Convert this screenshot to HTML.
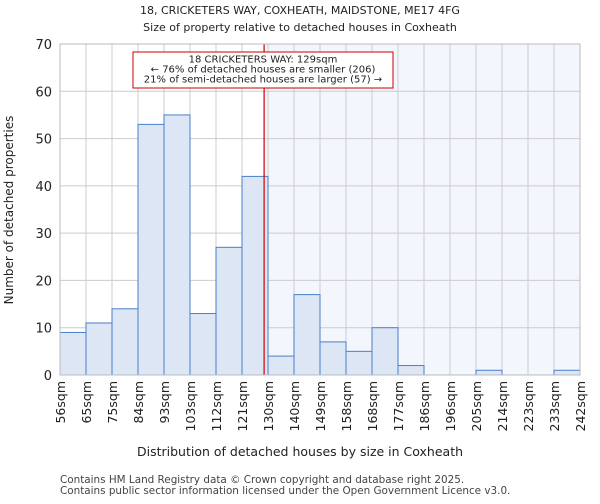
<!DOCTYPE html>
<html><head><meta charset="utf-8"><style>
body{margin:0;background:#fff;font-family:"DejaVu Sans","Liberation Sans",sans-serif}
</style></head><body>
<svg id="chart" width="600" height="500" xmlns="http://www.w3.org/2000/svg" font-family="DejaVu Sans, Liberation Sans, sans-serif">
<text x="300" y="14" text-anchor="middle" font-size="11" fill="#222">18, CRICKETERS WAY, COXHEATH, MAIDSTONE, ME17 4FG</text>
<text x="300" y="31" text-anchor="middle" font-size="11" fill="#222">Size of property relative to detached houses in Coxheath</text>
<g id="grid"></g><g id="bars"></g><g id="axes"></g>
<text x="300" y="456" text-anchor="middle" font-size="12.5" fill="#222">Distribution of detached houses by size in Coxheath</text>
<text transform="translate(13,210) rotate(-90)" text-anchor="middle" font-size="12" fill="#222">Number of detached properties</text>
<text x="60" y="483" font-size="10.4" fill="#444">Contains HM Land Registry data © Crown copyright and database right 2025.</text>
<text x="60" y="494" font-size="10.4" fill="#444">Contains public sector information licensed under the Open Government Licence v3.0.</text>
</svg>
<script>
const labels=["56sqm","65sqm","75sqm","84sqm","93sqm","103sqm","112sqm","121sqm","130sqm","140sqm","149sqm","158sqm","168sqm","177sqm","186sqm","196sqm","205sqm","214sqm","223sqm","233sqm","242sqm"];
const counts=[9,11,14,53,55,13,27,42,4,17,7,5,10,2,0,0,1,0,0,1];
const yTicks=[0,10,20,30,40,50,60,70];
const markerBin=7.85;
const NS="http://www.w3.org/2000/svg";
const L=60,R=580,T=44,B=375,yMax=70;
const bw=(R-L)/counts.length;
const x=i=>L+i*bw, y=v=>B-(B-T)*v/yMax;
function mk(t,a,p){const e=document.createElementNS(NS,t);for(const k in a)e.setAttribute(k,a[k]);p.appendChild(e);return e;}
const g=document.getElementById('grid'),bars=document.getElementById('bars'),ax=document.getElementById('axes');
const mx=x(markerBin);
const sh=mk('rect',{x:mx,y:T,width:R-mx,height:B-T,fill:'#f3f6fc'},g);


yTicks.forEach(t=>{const l=mk('line',{x1:L,x2:R,y1:y(t),y2:y(t),stroke:'#ccc'},g);


const tx=mk('text',{x:L-8,y:y(t)+5,'text-anchor':'end','font-size':13,fill:'#222'},ax);tx.textContent=t;

});
labels.forEach((s,i)=>{const l=mk('line',{x1:x(i),x2:x(i),y1:T,y2:B,stroke:'#ccc'},g);


const tx=mk('text',{transform:`translate(${x(i)+5},${B+6}) rotate(-90)`,'text-anchor':'end','font-size':12.5,fill:'#222'},ax);tx.textContent=s;

});
counts.forEach((c,i)=>{if(c<=0)return;const r=mk('rect',{x:x(i),y:y(c),width:bw,height:B-y(c),fill:'#dce6f5',stroke:'#4a7fc8','stroke-width':1},bars);

});
const ml=mk('line',{x1:mx,x2:mx,y1:T,y2:B,stroke:'#cc0000','stroke-width':1.2},bars);


const bx=mk('rect',{x:133,y:52,width:260,height:36,fill:'#fff',stroke:'#cc0000'},bars);


["18 CRICKETERS WAY: 129sqm","← 76% of detached houses are smaller (206)","21% of semi-detached houses are larger (57) →"].forEach((s,i)=>{const t=mk('text',{x:263,y:62.5+i*10,'text-anchor':'middle','font-size':10,fill:'#222'},bars);t.textContent=s;

});
const fr=mk('rect',{x:L,y:T,width:R-L,height:B-T,fill:'none',stroke:'#bbb'},ax);


</script>
</body></html>
